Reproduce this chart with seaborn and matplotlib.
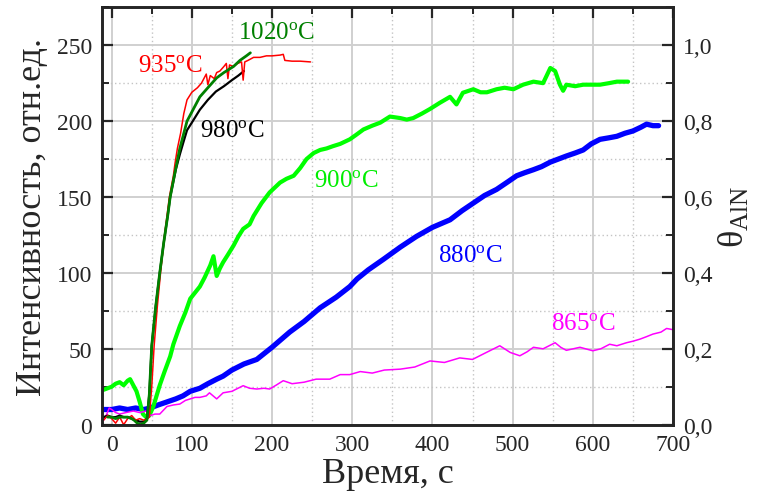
import numpy as np
import pandas as pd
import matplotlib
matplotlib.use("Agg")
import matplotlib.pyplot as plt
import seaborn as sns
from matplotlib.ticker import MultipleLocator, FuncFormatter

# ---------------- data ----------------
t_935 = [-10, -5, 0, 5, 10, 15, 20, 25, 30, 35, 40, 45, 47, 50, 53, 57, 61, 66, 72, 77, 79, 82, 86,
         90, 94, 100, 107, 112, 115, 118, 120, 123, 128, 131, 135, 140, 143, 145, 147, 152, 157,
         162, 164, 166, 170, 177, 185, 193, 200, 210, 214, 216, 225, 235, 248]
I_935 = [3, 6, 4, 1, 5, 0, 4, 6, 3, 4, 3, 4, 5, 25, 52, 78, 100, 125, 150, 164, 172, 182, 192,
         205, 214, 219, 222, 225, 228, 231, 224, 230, 228, 232, 233, 236, 238, 228, 237, 236, 238,
         239, 227, 239, 240, 242, 242, 243, 243, 243.5, 244, 240, 239.5, 239.5, 239]

t_980 = [-10, -5, 0, 5, 10, 15, 20, 25, 30, 35, 40, 44, 47, 50, 55, 60, 65, 70, 73, 80, 85, 90,
         94, 100, 110, 120, 130, 140, 150, 158, 165]
I_980 = [5, 6, 5, 5, 6, 5, 5, 4, 3, 2, 2, 4, 20, 52, 78, 100, 120, 138, 150, 168, 178, 187,
         194, 199, 207.5, 214, 219.5, 223, 227, 230, 233]

t_1020 = [-5, 0, 5, 10, 15, 20, 25, 28, 32, 36, 40, 44, 47, 50, 55, 60, 65, 70, 73, 80, 85, 90,
          94, 100, 110, 120, 131, 140, 152, 160, 168, 173]
I_1020 = [5, 5, 4, 5, 5, 5, 4, 3, 1, 0, 1, 3, 20, 52, 78, 100, 120, 138, 150, 169, 182, 192,
          200, 206, 216, 222, 228.5, 232, 236, 240, 243, 245]

t_900 = [-10, -5, 0, 5, 10, 15, 20, 23, 27, 31, 35, 39, 43, 47, 52, 56, 60, 66, 73, 77, 85, 92,
         98, 104, 110, 116, 123, 127, 131, 135, 139, 145, 152, 158, 164, 172, 177, 187, 197, 210,
         218, 227, 235, 243, 252, 260, 268, 276, 285, 297, 305, 314, 325, 335, 347, 360, 368, 376,
         387, 397, 409, 422, 430, 438, 451, 460, 468, 480, 490, 501, 513, 526, 538, 547, 553, 559,
         563, 567, 578, 588, 600, 609, 620, 630, 644]
I_900 = [23, 24, 25, 27, 28, 26, 29, 30, 26, 22, 15, 7, 5, 6, 12, 19, 26, 35, 45, 53, 65, 74,
         83, 87, 91, 97, 105, 111, 98, 103, 107, 112, 118, 124, 129, 132, 137.5, 146, 153, 159.5,
         162, 164, 169, 175, 179, 181, 182, 183.5, 185, 188, 191, 194.5, 197, 199, 203, 202, 201, 202,
         205, 208, 212, 216, 211, 218.7, 221, 219, 219, 221, 222, 221, 224, 226, 225, 235, 233, 224,
         220, 224, 223, 224, 224, 224, 225, 226, 226]

t_880 = [-10, 0, 10, 20, 30, 40, 48, 58, 69, 80, 89, 98, 110, 120, 131, 139, 150, 165, 181, 200,
         222, 240, 260, 280, 297, 306, 320, 339, 360, 380, 400, 422, 437, 451, 465, 480, 494, 505,
         515, 526, 536, 547, 557, 567, 578, 588, 598, 609, 620, 630, 640, 650, 660, 667, 675, 682]
I_880 = [10, 10, 11, 10, 11, 10, 11, 13, 15, 17, 19, 22, 24, 27, 30, 32, 36, 40, 43, 51,
         61, 68, 77, 84, 91, 96, 102, 109, 117, 124, 130, 135, 141, 146, 151, 155, 160, 164,
         166, 168, 170, 173, 175, 177, 179, 181, 185, 188, 189, 190, 192, 193.5, 196, 198, 197, 197]

t_865 = [-10, -6, -3, 0, 5, 10, 18, 27, 35, 43, 48, 54, 60, 69, 77, 85, 92, 98, 104, 110, 118,
         122, 131, 139, 150, 164, 172, 181, 190, 197, 205, 214, 225, 240, 255, 272, 285, 297, 310,
         325, 340, 360, 378, 397, 415, 434, 450, 465, 484, 497, 509, 518, 526, 538, 553, 560, 567,
         584, 600, 610, 621, 630, 642, 650, 659, 667, 675, 685, 692, 700]
I_865 = [3, 7, 11, 10, 8, 7, 8, 9, 8, 9, 6, 7, 7, 12, 13, 13.6, 16, 17, 18, 18, 19,
         21, 17, 21, 22, 25.7, 24, 23.5, 24, 23.5, 26, 29, 27, 28, 30, 30, 33, 33, 35,
         34, 36, 36.6, 38, 42, 41, 44, 43, 47, 52, 47.6, 45.4, 48, 51, 50, 54, 51, 49,
         51, 48.7, 50, 53, 52, 54, 55, 56.4, 58, 59.7, 61, 63.4, 62.6]

x_ticks = [0, 100, 200, 300, 400, 500, 600, 700]
y_ticks = [0, 50, 100, 150, 200, 250]
theta_ticks = [0.0, 0.2, 0.4, 0.6, 0.8, 1.0]

# ---------------- style ----------------
sns.set_style("white")
plt.rcParams["font.family"] = ["Liberation Serif", "DejaVu Serif"]
plt.rcParams["mathtext.fontset"] = "custom"
plt.rcParams["mathtext.rm"] = "Liberation Serif"
plt.rcParams["mathtext.it"] = "Liberation Serif:italic"
plt.rcParams["mathtext.bf"] = "Liberation Serif:bold"

fig = plt.figure(figsize=(7.59, 5.02), dpi=100)
ax = fig.add_axes([0.1344, 0.152, 0.7523, 0.8315])

series = [
    ("880", t_880, I_880, "#0000ff", 3.8),
    ("900", t_900, I_900, "#00ff00", 3.0),
    ("865", t_865, I_865, "#ff00ff", 1.1),
    ("980", t_980, I_980, "#000000", 1.6),
    ("935", t_935, I_935, "#ff0000", 1.1),
    ("1020", t_1020, I_1020, "#008000", 2.0),
]
for name, t, y, col, lw in series:
    df = pd.DataFrame({"t": t, "I": y})
    sns.lineplot(data=df, x="t", y="I", ax=ax, color=col, linewidth=lw,
                 sort=False, estimator=None)

ax.set_xlim(-12, 700)
ax.set_ylim(0, 275)
ax.set_xticks(x_ticks)
ax.set_yticks(y_ticks)
ax.xaxis.set_minor_locator(MultipleLocator(50))
ax.yaxis.set_minor_locator(MultipleLocator(25))

ax.grid(True, which="major", color="#d0d0d0", linewidth=1.4, linestyle="-")
ax.grid(True, which="minor", color="#c4c4c4", linewidth=1.0, linestyle=(0, (1, 2)))
ax.set_axisbelow(True)

ax.tick_params(axis="both", which="major", direction="in", length=8, width=1.6,
               labelsize=17, pad=7, top=True, right=False)
ax.tick_params(axis="both", which="minor", direction="in", length=5, width=1.4,
               top=True, right=False)
for s in ax.spines.values():
    s.set_linewidth(1.8)
    s.set_color("black")
for lbl in ax.get_xticklabels() + ax.get_yticklabels():
    lbl.set_fontfamily("Liberation Serif")

ax.set_xlabel("Время, с", fontsize=26, labelpad=1)
ax.set_ylabel("Интенсивность, отн.ед.", fontsize=26, labelpad=6)

ax2 = ax.twinx()
ax2.set_ylim(0, 1.1)
ax2.set_yticks(theta_ticks)
ax2.yaxis.set_minor_locator(MultipleLocator(0.1))
ax2.yaxis.set_major_formatter(FuncFormatter(lambda v, p: f"{v:.1f}".replace(".", ",")))
ax2.tick_params(axis="y", which="major", direction="in", length=8, width=1.6,
                labelsize=17, pad=7)
ax2.tick_params(axis="y", which="minor", direction="in", length=5, width=1.4)
for s in ax2.spines.values():
    s.set_linewidth(1.8)
ax2.set_ylabel("θ$_{\\rm AlN}$", fontsize=26, labelpad=4)

# annotations
fs = 18
lab = "{}$^{{\\rm o}}$C"
ax.text(33, 237, lab.format(935), color="#ff0000", fontsize=fs, va="center")
ax.text(157, 259, lab.format(1020), color="#008000", fontsize=fs, va="center")
ax.text(110, 194, lab.format(980), color="#000000", fontsize=fs, va="center")
ax.text(252, 161, lab.format(900), color="#00ee00", fontsize=fs, va="center")
ax.text(407, 112, lab.format(880), color="#0000ff", fontsize=fs, va="center")
ax.text(548, 67, lab.format(865), color="#ff00ff", fontsize=fs, va="center")

fig.savefig("out.png", dpi=100)
